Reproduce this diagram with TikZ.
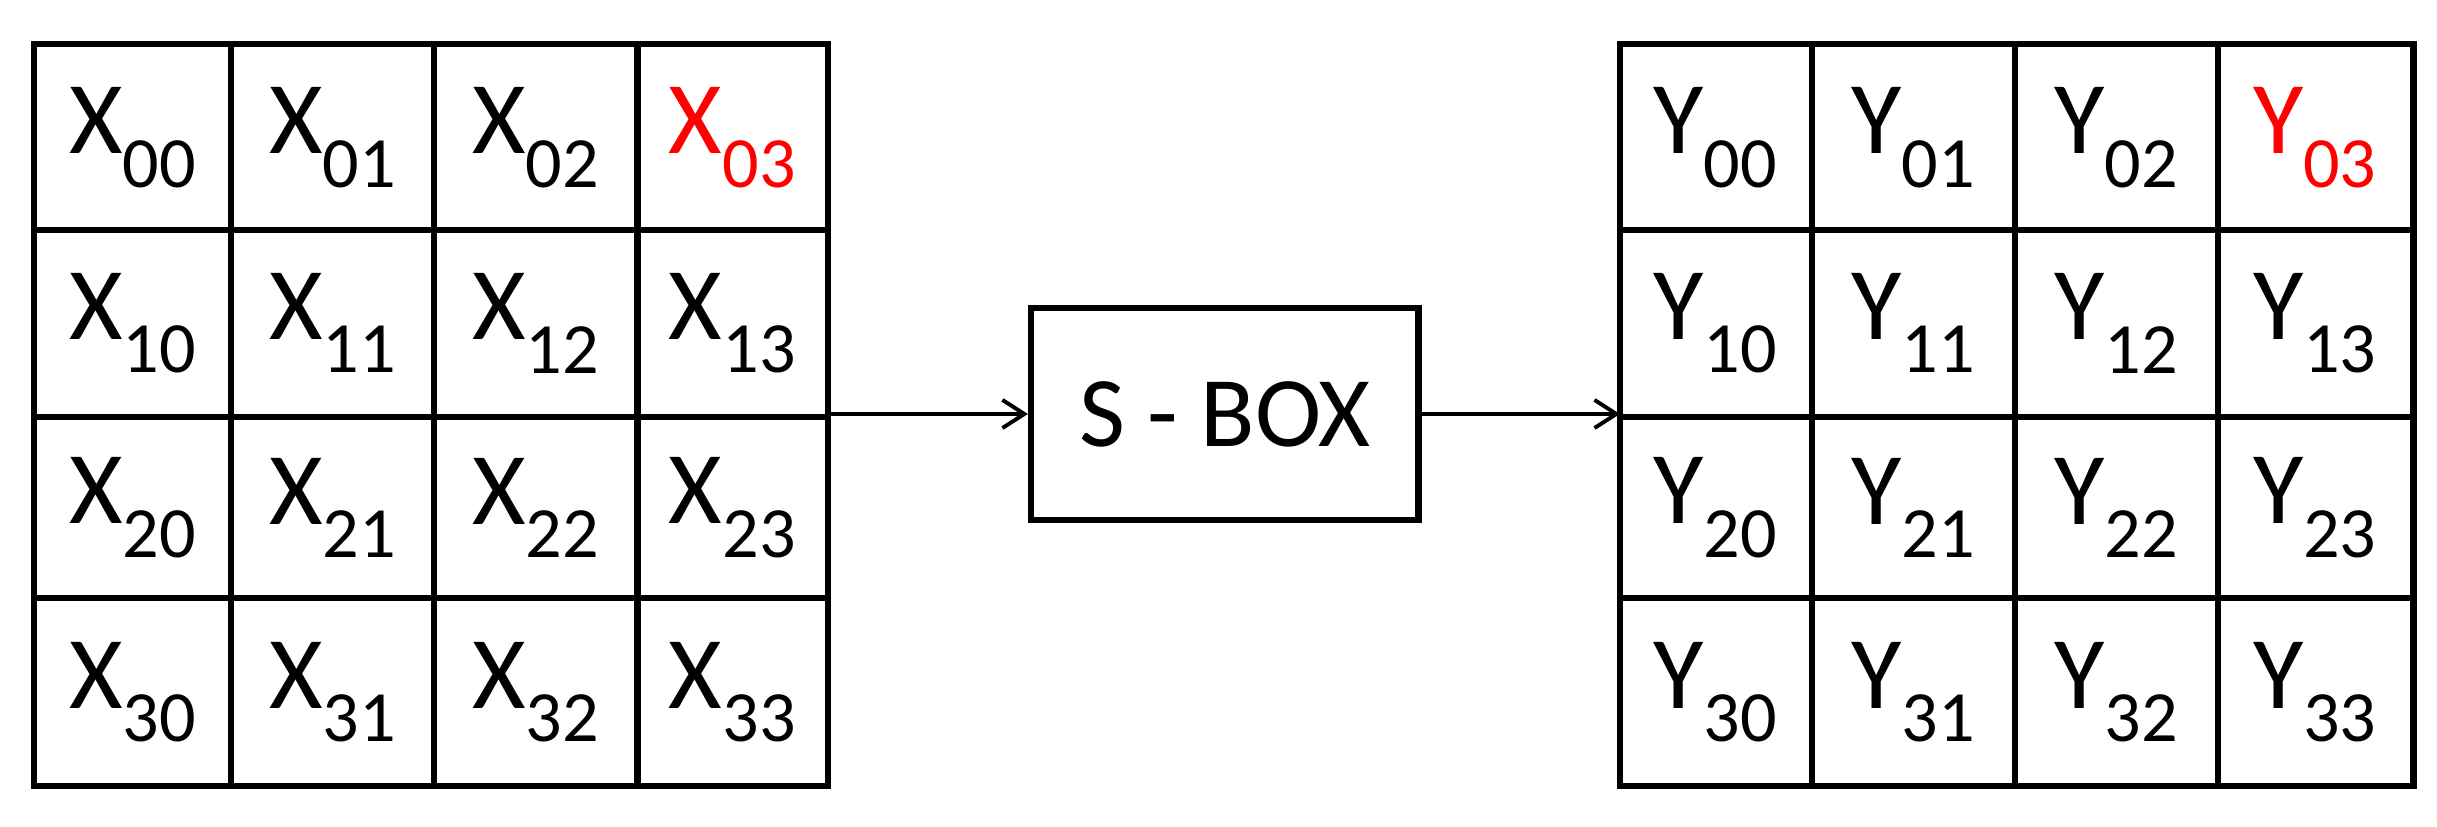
\documentclass[tikz,border=0pt]{standalone}
\usepackage{fontspec}
\setmainfont{Carlito}
\usetikzlibrary{arrows.meta}
\begin{document}
\begin{tikzpicture}[x=1pt,y=-1pt,
  grid/.style={line width=4pt},
  lbl/.style={font=\fontsize{66}{70}\selectfont,inner sep=0pt},
  conn/.style={line width=2.5pt,-{Straight Barb[length=14pt,width=18pt,line width=2.5pt]}}]
\useasboundingbox (0,0) rectangle (1560,529);
% left grid
\draw[grid] (22,28) rectangle (530,503);
\foreach \x in {148,278,408} \draw[grid] (\x,28) -- (\x,503);
\foreach \y in {147,267,383} \draw[grid] (22,\y) -- (530,\y);
% right grid
\draw[grid] (1037,28) rectangle (1545,503);
\foreach \x in {1160,1290,1420} \draw[grid] (\x,28) -- (\x,503);
\foreach \y in {147,267,383} \draw[grid] (1037,\y) -- (1545,\y);
% labels
\foreach \r/\yc in {0/88,1/207,2/325,3/443}{
  \foreach \c/\xl/\xr in {0/85/1098,1/213/1225,2/343/1355,3/469/1482}{
    \ifnum\r=0 \ifnum\c=3
      \node[lbl,text=red] (x\r\c) at (\xl,\yc) {X\textsubscript{\r\c}};
      \node[lbl,text=red] (y\r\c) at (\xr,\yc) {Y\textsubscript{\r\c}};
    \else
      \node[lbl] (x\r\c) at (\xl,\yc) {X\textsubscript{\r\c}};
      \node[lbl] (y\r\c) at (\xr,\yc) {Y\textsubscript{\r\c}};
    \fi\else
      \node[lbl] (x\r\c) at (\xl,\yc) {X\textsubscript{\r\c}};
      \node[lbl] (y\r\c) at (\xr,\yc) {Y\textsubscript{\r\c}};
    \fi
  }
}
\node[draw,line width=4pt,minimum width=248pt,minimum height=136pt,font=\fontsize{64}{68}\selectfont,inner sep=0pt] (sbox) at (784,265) {S - BOX};
\coordinate (lout) at (530,265);
\coordinate (rin) at (1037,265);
\draw[conn] (lout) -- (sbox.west);
\draw[conn] (sbox.east) -- (rin);
\end{tikzpicture}
\end{document}
